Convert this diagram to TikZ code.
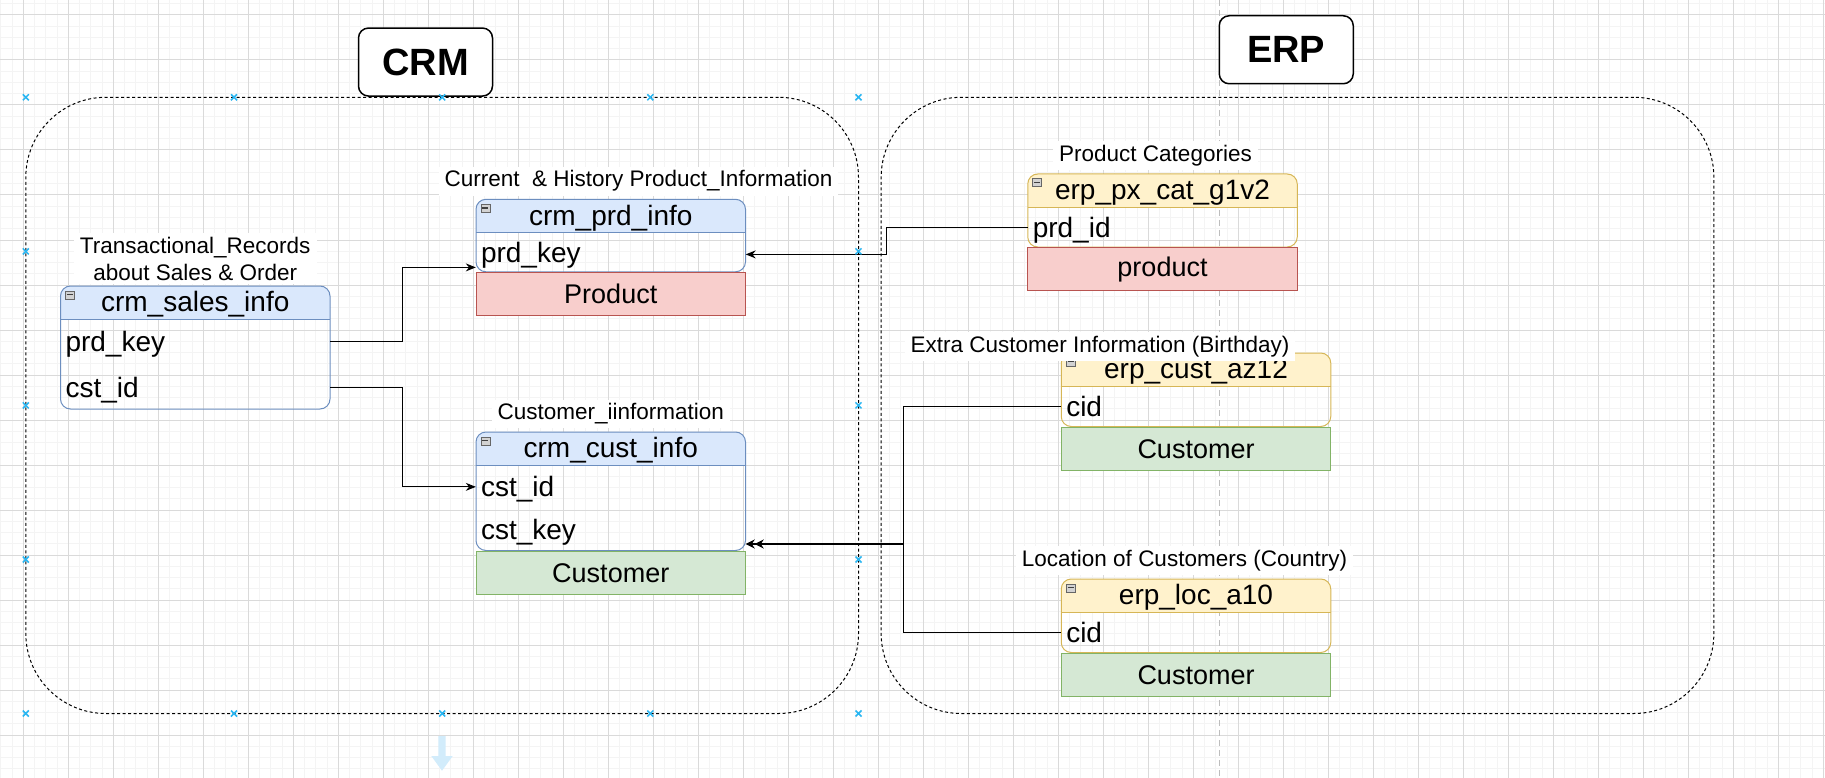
\documentclass[tikz,border=0pt]{standalone}
\usepackage{fontspec}
\setmainfont{Liberation Sans}
\usepackage{xcolor}
\usepackage{tikz}
\usetikzlibrary{shapes,calc}
\usetikzlibrary{positioning}
\usetikzlibrary{arrows.meta}

\definecolor{crmhead}{HTML}{DAE8FC}
\definecolor{crmline}{HTML}{6C8EBF}
\definecolor{erphead}{HTML}{FFF2CC}
\definecolor{erpline}{HTML}{D6B656}
\definecolor{prdfill}{HTML}{F8CECC}
\definecolor{prdline}{HTML}{B85450}
\definecolor{custfill}{HTML}{D5E8D4}
\definecolor{custline}{HTML}{82B366}
\definecolor{selblue}{HTML}{29B6F2}
\definecolor{hoverblue}{HTML}{D2ECFB}
\definecolor{gridminor}{HTML}{F4F4F4}
\definecolor{gridmajor}{HTML}{DADADA}
\definecolor{guide}{HTML}{BDBDBD}

\tikzset{
	zone/.style={draw,rectangle,rounded corners=80pt,line width=1pt,dash pattern=on 3pt off 2.5pt,minimum width=832.7pt,minimum height=616.2pt},
	titlebox/.style={draw,rectangle,rounded corners=10pt,line width=1.5pt,fill=white,minimum width=134pt,minimum height=68pt,font=\fontsize{38}{42}\selectfont\bfseries},
	tbl/.style={draw=#1,rectangle,rounded corners=10pt,line width=1pt,minimum width=269.5pt,inner sep=0pt},
	crmtbl/.style={tbl=crmline,path picture={
			\fill[crmhead,sharp corners] (path picture bounding box.north west) rectangle ([yshift=-33.5pt]path picture bounding box.north east);
			\draw[crmline,line width=1pt] ([yshift=-33.5pt]path picture bounding box.north west) -- ([yshift=-33.5pt]path picture bounding box.north east);}},
	erptbl/.style={tbl=erpline,path picture={
			\fill[erphead,sharp corners] (path picture bounding box.north west) rectangle ([yshift=-33.5pt]path picture bounding box.north east);
			\draw[erpline,line width=1pt] ([yshift=-33.5pt]path picture bounding box.north west) -- ([yshift=-33.5pt]path picture bounding box.north east);}},
	hdrtxt/.style={rectangle,minimum width=269.5pt,minimum height=33.5pt,inner sep=0pt,text height=22.5pt,text depth=3.5pt,font=\fontsize{28}{32}\selectfont},
	field/.style={rectangle,minimum height=#1,text width=259.5pt,inner xsep=5pt,inner ysep=0pt,text height=23pt,text depth=3pt,align=left,font=\fontsize{28}{32}\selectfont},
	ptag/.style={draw=prdline,fill=prdfill,rectangle,line width=1pt,minimum width=269.5pt,minimum height=43pt,inner sep=0pt,font=\fontsize{27}{31}\selectfont},
	ctag/.style={ptag,draw=custline,fill=custfill},
	tblabel/.style={fill=white,rectangle,inner xsep=6pt,inner ysep=4pt,align=center,font=\fontsize{22.5}{27}\selectfont},
	minusbox/.style={draw=gray!80!black,fill=gray!35,rectangle,minimum width=9pt,minimum height=8pt,inner sep=0pt,line width=0.6pt,
		path picture={\draw[black!75,line width=1.2pt] ([xshift=1.5pt]path picture bounding box.west) -- ([xshift=-1.5pt]path picture bounding box.east);}},
	conn/.style={draw=black,line width=1pt,-{Stealth[length=10pt,width=8pt]}},
	link/.style={draw=black,line width=1pt},
	selmark/.style={draw=selblue,line width=1.5pt},
}

\begin{document}
\begin{tikzpicture}[x=1pt,y=-1pt]
	\useasboundingbox (0,0) rectangle (1825,778);
	\fill[white] (0,0) rectangle (1825,778);
	
	% grid
	\foreach \gx in {0,...,162} \draw[gridminor,line width=1pt] (0.8+\gx*11.25,0) -- (0.8+\gx*11.25,778);
	\foreach \gy in {0,...,68} \draw[gridminor,line width=1pt] (0,3.75+\gy*11.25) -- (1825,3.75+\gy*11.25);
	\foreach \gx in {0,...,40} \draw[gridmajor,line width=1pt] (23.3+\gx*45,0) -- (23.3+\gx*45,778);
	\foreach \gy in {0,...,16} \draw[gridmajor,line width=1pt] (0,15+\gy*45) -- (1825,15+\gy*45);
	
	% guide
	\draw[guide,line width=1pt,dash pattern=on 6pt off 4pt] (1219,0) -- (1219,778);
	
	% groups
	\node[zone] (crm) at (442.15,405.4) {};
	\node[zone] (erp) at (1297.5,405.4) {};
	\node[titlebox] (crmtitle) [above=0pt of crm.north,xshift=-16.65pt] {CRM};
	\node[titlebox] (erptitle) [above=12.3pt of erp.north,xshift=-11.25pt] {ERP\hspace{14pt}};
	
	% crm_sales_info
	\node[crmtbl,minimum height=123pt] (sales) at (195.25,347.5) {};
	\node[hdrtxt] (salesh) [below=0pt of sales.north] {crm\_sales\_info};
	\node[field=44.75pt] (salesprd) [below=0pt of salesh] {prd\_key};
	\node[field=44.75pt] (salescst) [below=0pt of salesprd] {cst\_id};
	\node[minusbox] (salesm) [below right=5pt and 5pt of sales.north west] {};
	\node[tblabel] (salesl) [above=1pt of sales] {Transactional\_Records\\about Sales \& Order};
	
	% crm_prd_info
	\node[crmtbl,minimum height=72.5pt] (prd) at (610.75,235.55) {};
	\node[hdrtxt] (prdh) [below=0pt of prd.north] {crm\_prd\_info};
	\node[field=39pt] (prdkey) [below=0pt of prdh] {prd\_key};
	\node[ptag] (prdtag) [below=0pt of prdkey] {Product};
	\node[minusbox] (prdm) [below right=5pt and 5pt of prd.north west] {};
	\node[tblabel] (prdl) [above=3pt of prd,xshift=27.75pt] {Current~~\& History Product\_Information};
	
	% crm_cust_info
	\node[crmtbl,minimum height=118.5pt] (cust) at (610.75,491.25) {};
	\node[hdrtxt] (custh) [below=0pt of cust.north] {crm\_cust\_info};
	\node[field=42.5pt] (custid) [below=0pt of custh] {cst\_id};
	\node[field=42.5pt] (custkey) [below=0pt of custid] {cst\_key};
	\node[ctag] (custtag) [below=0pt of custkey] {Customer};
	\node[minusbox] (custm) [below right=5pt and 5pt of cust.north west] {};
	\node[tblabel] (custl) [above=3pt of cust] {Customer\_iinformation};
	
	% erp_px_cat_g1v2
	\node[erptbl,minimum height=73pt] (cat) at (1162.5,210.5) {};
	\node[hdrtxt] (cath) [below=0pt of cat.north] {erp\_px\_cat\_g1v2};
	\node[field=39.5pt] (catprd) [below=0pt of cath] {prd\_id};
	\node[ptag] (cattag) [below=0pt of catprd] {product};
	\node[minusbox] (catm) [below right=5pt and 5pt of cat.north west] {};
	\node[tblabel] (catl) [above=3pt of cat,xshift=-7pt] {Product Categories};
	
	% erp_cust_az12
	\node[erptbl,minimum height=73.5pt] (az) at (1196,389.75) {};
	\node[hdrtxt] (azh) [below=0pt of az.north] {erp\_cust\_az12};
	\node[field=40pt] (azcid) [below=0pt of azh] {cid};
	\node[ctag] (aztag) [below=0pt of azcid] {Customer};
	\node[minusbox] (azm) [below right=5pt and 5pt of az.north west] {};
	\node[tblabel] (azl) [above=-9pt of az,xshift=-96pt] {Extra Customer Information (Birthday)};
	
	% erp_loc_a10
	\node[erptbl,minimum height=73.5pt] (loc) at (1196,615.75) {};
	\node[hdrtxt] (loch) [below=0pt of loc.north] {erp\_loc\_a10};
	\node[field=40pt] (loccid) [below=0pt of loch] {cid};
	\node[ctag] (loctag) [below=0pt of loccid] {Customer};
	\node[minusbox] (locm) [below right=5pt and 5pt of loc.north west] {};
	\node[tblabel] (locl) [above=3pt of loc,xshift=-11.5pt] {Location of Customers (Country)};
	
	% connections
	\draw[conn] (salesprd.east) -- ++(72,0) |- ([yshift=-15pt]prdkey.west);
	\draw[conn] (salescst.east) -- ++(72,0) |- (custid.west);
	\draw[conn] (catprd.west) -- ++(-141,0) |- ([yshift=-2pt]prdkey.east);
	\draw[link] (azcid.west) -- ++(-158,0) |- (loccid.west);
	\coordinate (jn) at (903,544);
	\draw[line width=2pt,-{Stealth[length=9pt,width=9pt]Stealth[length=9pt,width=9pt]}] (jn) -- (jn -| custkey.east);
	
	% selection handles
	\foreach \hx in {25.8,234,442.2,650.3,858.5}
		\foreach \hy in {97.3,713.5}
			\draw[selmark] (\hx,\hy) +(-3,-3) -- +(3,3) +(-3,3) -- +(3,-3);
	\foreach \hy in {251.4,405.4,559.5}
		\foreach \hx in {25.8,858.5}
			\draw[selmark] (\hx,\hy) +(-3,-3) -- +(3,3) +(-3,3) -- +(3,-3);
	
	% hover arrow
	\fill[hoverblue] (438.3,736) -- (445.7,736) -- (445.7,756) -- (452.7,756) -- (442,770.7) -- (431.3,756) -- (438.3,756) -- cycle;
	
\end{tikzpicture}
\end{document}
